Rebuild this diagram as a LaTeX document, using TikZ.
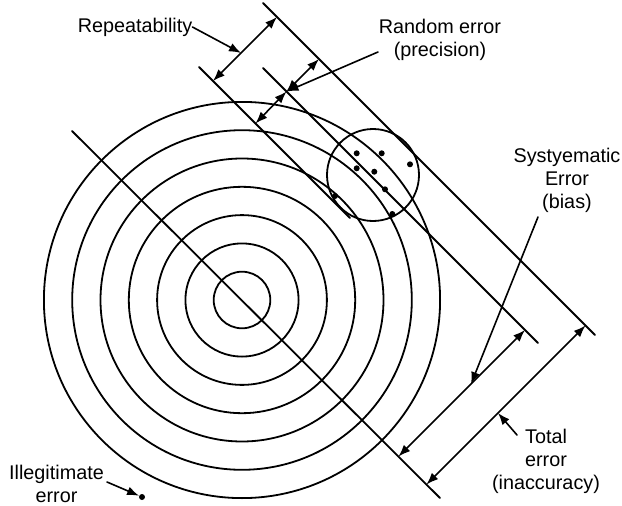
\documentclass[tikz,border=0pt]{standalone}
\usepackage{fontspec}
\setmainfont{Liberation Sans}
\usetikzlibrary{arrows.meta}

\begin{document}
\begin{tikzpicture}[x=1pt, y=-1pt, line cap=round, line join=round, every node/.style={font=\fontsize{19.8}{23}\selectfont}]
  \tikzset{ring/.style={draw=black, line width=1.8pt}, guide/.style={draw=black, line width=1.8pt},
    dimarrow/.style={line width=1.6pt, {Latex[length=12pt,width=9pt]}-{Latex[length=12pt,width=9pt]}},
    pointer/.style={line width=1.6pt, -{Latex[length=12pt,width=9pt]}},
    lbl/.style={align=center, inner sep=0pt}, shot/.style={fill=black, circle, inner sep=0pt, minimum size=6pt}}
  \useasboundingbox (0,0) rectangle (622,506);

  % target
  \coordinate (ctr) at (242,300);
  \foreach \r in {1,...,7}
    \draw[ring] (ctr) circle (\r*28.3pt);

  % axis and the three lines of the shot group
  \coordinate (ax1) at (72,131);   \coordinate (ax2) at (440,498);
  \coordinate (up1) at (263,3);    \coordinate (up2) at (595,335);
  \coordinate (mid1) at (263,68);  \coordinate (mid2) at (538,343);
  \coordinate (lo1) at (199,67);   \coordinate (lo2) at (350,218);
  \foreach \s in {ax,up,mid,lo}
    \draw[guide] (\s1) -- (\s2);

  % shot group
  \node[ring, circle, minimum size=92pt, inner sep=0pt] (group) at (373,175) {};
  \foreach \x/\y [count=\i] in {356.7/153.3,381.7/153.3,410/164.3,356.7/168.3,374.3/171.7,385/189.3,335/196,392.3/214}
    \node[shot] (s\i) at (\x,\y) {};
  \node[shot] (bad) at (142,497) {};

  % repeatability
  \coordinate (repB) at (213,81);  \coordinate (repA) at (277,17);  \coordinate (repM) at (241,53);
  \draw[dimarrow] (repB) -- (repA);
  \node[lbl] (replbl) at (135,27) {Repeatability};
  \draw[pointer] (replbl.east) -- (repM);

  % random error
  \coordinate (randC) at (286.5,91.5);  \coordinate (randA) at (319,59);  \coordinate (randB) at (255.5,123.5);
  \draw[dimarrow] (randC) -- (randA);
  \draw[dimarrow] (randC) -- (randB);
  \node[lbl] (randlbl) at (440,40) {Random error\\(precision)};
  \coordinate (randtail) at (378,52);
  \draw[pointer] (randtail) -- (randC);

  % systematic error
  \coordinate (sysC) at (525,330);  \coordinate (sysX) at (398.5,456.5);  \coordinate (sysM) at (471,384);
  \draw[dimarrow] (sysX) -- (sysC);
  \node[lbl] (syslbl) at (567,180) {Systyematic\\Error\\(bias)};
  \coordinate (systail) at (538,217);
  \draw[pointer] (systail) -- (sysM);

  % total error
  \coordinate (totA) at (585.5,325.5);  \coordinate (totX) at (426.5,484.5);  \coordinate (totM) at (498,413);
  \draw[dimarrow] (totX) -- (totA);
  \node[lbl] (totlbl) at (546,461) {Total\\error\\(inaccuracy)};
  \coordinate (tottail) at (517,435);
  \draw[pointer] (tottail) -- (totM);

  % illegitimate error
  \node[lbl] (illlbl) at (56.5,484) {Illegitimate\\error};
  \coordinate (illtail) at (107,482);
  \draw[pointer] (illtail) -- (bad);
\end{tikzpicture}
\end{document}
